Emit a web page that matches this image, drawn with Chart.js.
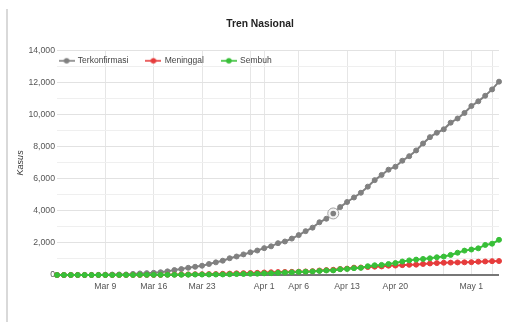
<!DOCTYPE html>
<html><head><meta charset="utf-8">
<script src="https://cdn.jsdelivr.net/npm/chart.js@4/dist/chart.umd.min.js"></script>
<style>
html,body{margin:0;padding:0;background:#fff;}
#wrap{position:relative;width:510px;height:322px;overflow:hidden;}
#edge{position:absolute;left:6px;top:9px;width:2px;height:313px;background:#d9d9d9;}
canvas{position:absolute;left:0;top:0;}
</style></head><body>
<div id="wrap"><div id="edge"></div><canvas id="c" width="510" height="322"></canvas></div>
<script>
const TITLE = 'Tren Nasional';
const Y_TITLE = 'Kasus';
const SERIES_NAMES = ['Terkonfirmasi', 'Meninggal', 'Sembuh'];
const DATES = [
 'Mar 2','Mar 3','Mar 4','Mar 5','Mar 6','Mar 7','Mar 8','Mar 9','Mar 10','Mar 11','Mar 12','Mar 13','Mar 14','Mar 15','Mar 16',
 'Mar 17','Mar 18','Mar 19','Mar 20','Mar 21','Mar 22','Mar 23','Mar 24','Mar 25','Mar 26','Mar 27','Mar 28','Mar 29','Mar 30','Mar 31',
 'Apr 1','Apr 2','Apr 3','Apr 4','Apr 5','Apr 6','Apr 7','Apr 8','Apr 9','Apr 10','Apr 11','Apr 12','Apr 13','Apr 14','Apr 15',
 'Apr 16','Apr 17','Apr 18','Apr 19','Apr 20','Apr 21','Apr 22','Apr 23','Apr 24','Apr 25','Apr 26','Apr 27','Apr 28','Apr 29','Apr 30',
 'May 1','May 2','May 3','May 4','May 5'
];
const TERKONFIRMASI = [
 2,2,2,2,4,4,6,19,27,34,34,69,96,117,134,
 172,227,309,369,450,514,579,686,790,893,1046,1155,1285,1414,1528,
 1677,1790,1986,2092,2273,2491,2738,2956,3293,3512,3842,4241,4557,4839,5136,
 5516,5923,6248,6575,6760,7135,7418,7775,8211,8607,8882,9096,9511,9771,10118,
 10551,10843,11192,11587,12071
];
const MENINGGAL = [
 0,0,0,0,0,0,0,0,0,1,1,4,5,5,5,
 5,19,25,32,38,48,49,55,58,78,87,102,114,122,136,
 157,170,181,191,198,209,221,240,280,306,327,373,399,459,469,
 496,520,535,582,590,616,635,647,689,720,743,765,773,784,792,
 800,831,845,864,872
];
const SEMBUH = [
 0,0,0,0,0,0,0,0,0,2,3,5,8,8,8,
 9,11,15,16,20,29,30,30,31,35,46,59,64,75,81,
 103,112,134,150,164,192,204,222,252,282,286,359,380,426,446,
 548,607,631,686,747,842,913,960,1002,1042,1107,1151,1254,1391,1522,
 1591,1665,1876,1954,2197
];
const X_TICK_LABELS = ['Mar 9','Mar 16','Mar 23','Apr 1','Apr 6','Apr 13','Apr 20','May 1'];
const X_GRID_DATES = ['Mar 9','Mar 16','Mar 23','Mar 30','Apr 1','Apr 6','Apr 13','Apr 20','Apr 27','May 1','May 4'];
const Y_TICK_VALUES = [0,2000,4000,6000,8000,10000,12000,14000];
const HIGHLIGHT_DATE = 'Apr 11';

const COLORS = ['#808080', '#e63c3c', '#38bf38'];
const FONT = '"Liberation Sans", Arial, sans-serif';
Chart.defaults.font.family = FONT;

function legendIcon(color) {
  const c = document.createElement('canvas');
  c.width = 16; c.height = 8;
  const g = c.getContext('2d');
  g.strokeStyle = color; g.lineWidth = 1.6;
  g.beginPath(); g.moveTo(0, 4); g.lineTo(16, 4); g.stroke();
  g.fillStyle = color;
  g.beginPath(); g.arc(8, 4, 2.8, 0, Math.PI * 2); g.fill();
  return c;
}
const ICONS = COLORS.map(legendIcon);

const legendPlace = {
  id: 'legendPlace',
  afterLayout(chart) {
    const lg = chart.legend, a = chart.chartArea;
    const w = lg.width;
    lg.left = a.left - 15.4; lg.right = lg.left + w;
    lg.top = a.top - 12.25; lg.bottom = lg.top + 40; lg.height = 40;
  }
};
const highlight = {
  id: 'highlight',
  afterDatasetsDraw(chart) {
    const i = DATES.indexOf(HIGHLIGHT_DATE);
    const p = chart.getDatasetMeta(0).data[i];
    if (!p) return;
    const ctx = chart.ctx;
    ctx.save();
    ctx.beginPath(); ctx.arc(p.x, p.y, 5.5, 0, Math.PI * 2);
    ctx.fillStyle = '#f4f4f4'; ctx.fill();
    ctx.strokeStyle = '#a0a0a0'; ctx.lineWidth = 1; ctx.stroke();
    ctx.beginPath(); ctx.arc(p.x, p.y, 2.8, 0, Math.PI * 2);
    ctx.fillStyle = COLORS[0]; ctx.fill();
    ctx.restore();
  }
};

const seriesData = [TERKONFIRMASI, MENINGGAL, SEMBUH];
const datasets = seriesData.map((d, i) => ({
  label: SERIES_NAMES[i],
  data: d,
  borderColor: COLORS[i],
  backgroundColor: COLORS[i],
  pointBackgroundColor: COLORS[i],
  pointBorderColor: COLORS[i],
  pointRadius: 2.5,
  pointBorderWidth: 1,
  borderWidth: 2,
  tension: 0,
  clip: false,
  order: 2 - i
}));

new Chart(document.getElementById('c'), {
  type: 'line',
  data: { labels: DATES, datasets },
  plugins: [legendPlace, highlight],
  options: {
    responsive: false,
    animation: false,
    events: [],
    layout: { padding: { left: 21, right: 11, top: 0, bottom: 0 } },
    plugins: {
      tooltip: { enabled: false },
      title: {
        display: true, text: TITLE, color: '#222',
        font: { size: 10.3, weight: 'bold' },
        padding: { top: 17.7, bottom: 19.7 }
      },
      legend: {
        position: 'top', align: 'start', maxHeight: 1,
        labels: {
          usePointStyle: true, pointStyleWidth: 14, padding: 18,
          color: '#444', font: { size: 8.5 },
          sort: (a, b) => a.datasetIndex - b.datasetIndex,
          generateLabels: (chart) => chart.data.datasets.map((ds, i) => ({
            text: ds.label, fillStyle: ds.borderColor, strokeStyle: ds.borderColor,
            lineWidth: 0, pointStyle: ICONS[i], datasetIndex: i, hidden: false, fontColor: '#444'
          }))
        }
      }
    },
    scales: {
      x: {
        type: 'category',
        border: { display: false },
        grid: {
          drawTicks: false,
          color: (ctx) => X_GRID_DATES.includes(DATES[ctx.index]) ? '#e6e6e6' : 'rgba(0,0,0,0)'
        },
        ticks: {
          autoSkip: false, maxRotation: 0, minRotation: 0, padding: 6,
          color: '#555', font: { size: 8.7 },
          callback: (v, i) => X_TICK_LABELS.includes(DATES[i]) ? DATES[i] : ''
        },
        afterFit: (s) => { s.height = 47; }
      },
      y: {
        min: 0, max: 14000,
        border: { display: false },
        grid: {
          drawTicks: false,
          color: (ctx) => ctx.tick.value === 0 ? '#777' : (ctx.tick.value % 2000 === 0 ? '#e2e2e2' : '#efefef'),
          lineWidth: (ctx) => ctx.tick.value === 0 ? 2 : 1
        },
        ticks: {
          stepSize: 1000, autoSkip: false, padding: 2,
          color: '#555', font: { size: 8.7 },
          callback: (v) => Y_TICK_VALUES.includes(v) ? v.toLocaleString('en-US') : ''
        },
        title: {
          display: true, text: Y_TITLE, color: '#333',
          font: { size: 9, style: 'italic' },
          padding: { top: -6.4, bottom: 0 }
        },
        afterFit: (s) => { s.width = 36; }
      }
    }
  }
});
</script>
</body></html>
